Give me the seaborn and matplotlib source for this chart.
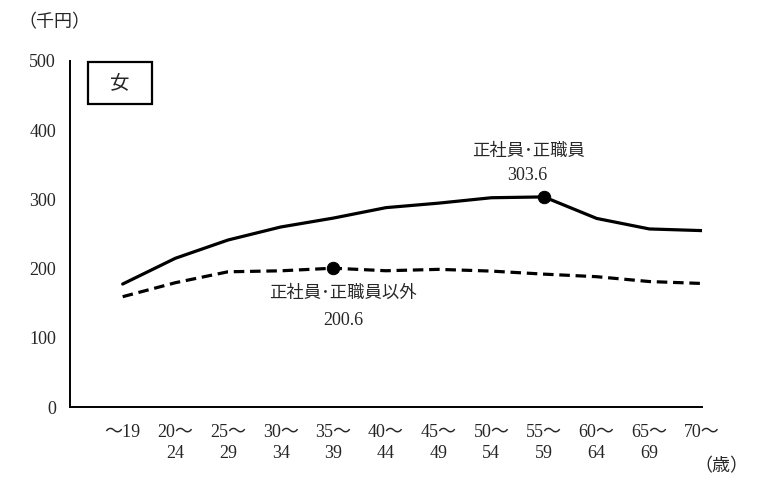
import matplotlib
matplotlib.use("Agg")
import matplotlib.pyplot as plt
from matplotlib.patches import Rectangle
import seaborn as sns
import pandas as pd
import numpy as np

age_labels = ["～19", "20～\n24", "25～\n29", "30～\n34", "35～\n39", "40～\n44",
              "45～\n49", "50～\n54", "55～\n59", "60～\n64", "65～\n69", "70～"]
regular = [177.7, 214.9, 241.3, 260.1, 273.0, 288.1, 294.6, 302.4, 303.6, 272.5, 257.3, 254.9]
non_regular = [159.4, 179.6, 195.4, 196.8, 200.6, 196.9, 198.9, 196.4, 192.0, 188.3, 181.3, 178.5]
series_names = ["正社員･正職員", "正社員･正職員以外"]
y_ticks = [0, 100, 200, 300, 400, 500]

sns.set_theme(style="white")
plt.rcParams['font.family'] = ['Liberation Serif', 'Noto Sans CJK JP', 'DejaVu Sans']

pos = np.arange(len(age_labels))
df_r = pd.DataFrame({"pos": pos, "val": regular})
df_n = pd.DataFrame({"pos": pos, "val": non_regular})

W, H = 774, 498
fig = plt.figure(figsize=(W/100, H/100), dpi=100)
ax = fig.add_axes([70/W, 1-407/H, (702-70)/W, (407-61)/H])

sns.lineplot(data=df_r, x="pos", y="val", ax=ax, color="black", lw=2.3)
sns.lineplot(data=df_n, x="pos", y="val", ax=ax, color="black", lw=2.3)
ax.lines[-1].set_dashes((3.3, 1.8))

ir = int(np.argmax(regular))
inr = int(np.argmax(non_regular))
sns.scatterplot(x=[pos[ir], pos[inr]], y=[regular[ir], non_regular[inr]], ax=ax,
                color="black", s=80, zorder=5, edgecolor="black")

ax.set_xlim(-1, 11)
ax.set_ylim(0, 500)
ax.set_xticks(pos)
ax.set_xticklabels(age_labels, fontsize=13)
for lab in ax.get_xticklabels():
    lab.set_linespacing(1.3)
ax.set_yticks(y_ticks)
ax.set_yticklabels([str(v) for v in y_ticks], fontsize=13)
ax.tick_params(axis='both', direction='in', length=4, width=1.2, color='black')
ax.tick_params(axis='x', pad=12)
ax.tick_params(axis='y', pad=10)
ax.set_xlabel("")
ax.set_ylabel("")
for s in ["top", "right"]:
    ax.spines[s].set_visible(False)
for s in ["left", "bottom"]:
    ax.spines[s].set_color("black")
    ax.spines[s].set_linewidth(1.4)

k = 0.72  # px -> pt
ax.annotate(series_names[0], xy=(pos[ir], regular[ir]), xytext=(-15*k, 45*k),
            textcoords="offset points", ha="center", va="center", fontsize=12.5)
ax.annotate(f"{regular[ir]:.1f}", xy=(pos[ir], regular[ir]), xytext=(-17*k, 21*k),
            textcoords="offset points", ha="center", va="center", fontsize=13)
ax.annotate(series_names[1], xy=(pos[inr], non_regular[inr]), xytext=(10*k, -26*k),
            textcoords="offset points", ha="center", va="center", fontsize=12.5)
ax.annotate(f"{non_regular[inr]:.1f}", xy=(pos[inr], non_regular[inr]), xytext=(10*k, -52*k),
            textcoords="offset points", ha="center", va="center", fontsize=13)

fig.text(54/W, 1-23/H, "（千円）", ha="center", va="center", fontsize=13)
fig.text(721/W, 1-467/H, "（歳）", ha="center", va="center", fontsize=13)
fig.patches.append(Rectangle((88/W, 1-104/H), 64/W, 42/H, transform=fig.transFigure,
                             fill=False, ec="black", lw=1.6, figure=fig))
fig.text(120/W, 1-83/H, "女", ha="center", va="center", fontsize=14)

fig.savefig("out.png", dpi=100)
